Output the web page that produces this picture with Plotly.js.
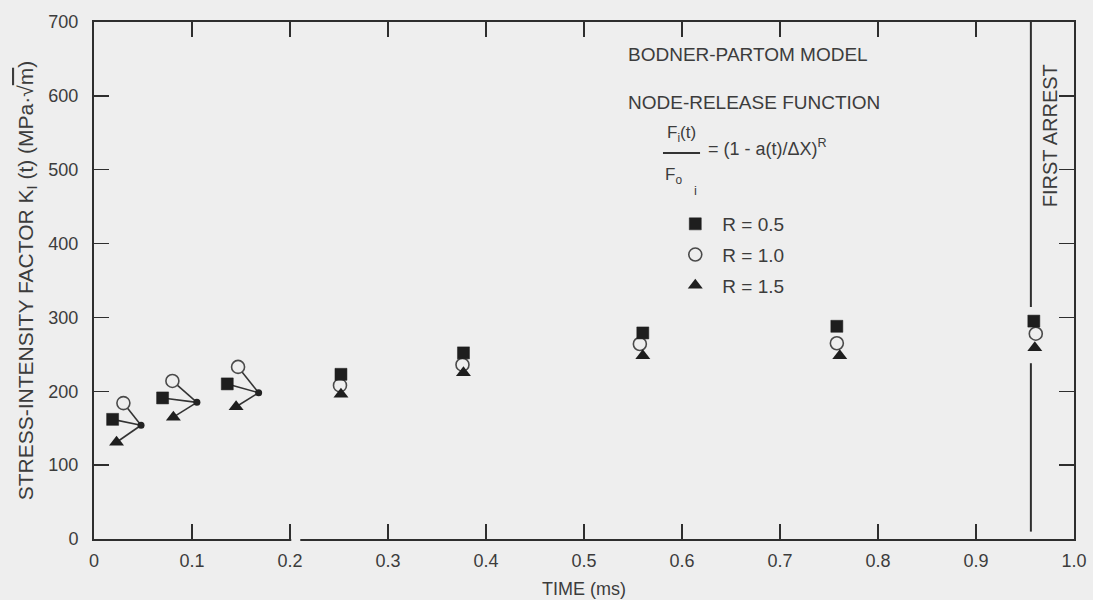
<!DOCTYPE html>
<html>
<head>
<meta charset="utf-8">
<script src="https://cdn.plot.ly/plotly-3.0.1.min.js"></script>
<style>
  html, body { margin: 0; padding: 0; background: #eeeeee; }
  #chart { width: 1093px; height: 600px; }
</style>
</head>
<body>
<div id="chart"></div>
<script>
// Stress-intensity factor K_I(t) vs time for three node-release exponents
const tR05 = [0.019, 0.070, 0.136, 0.252, 0.377, 0.560, 0.758, 0.959];
const kR05 = [162, 191, 210, 223, 252, 279, 288, 295];
const tR10 = [0.030, 0.080, 0.147, 0.251, 0.376, 0.557, 0.758, 0.961];
const kR10 = [184, 214, 233, 208, 236, 264, 265, 278];
const tR15 = [0.023, 0.081, 0.145, 0.252, 0.377, 0.560, 0.761, 0.960];
const kR15 = [131, 165, 179, 196, 225, 248, 248, 259];

// node-release points that fan out to the three R cases (first three steps)
const tNode = [0.048, 0.105, 0.168];
const kNode = [154, 185, 198];

// first-arrest marker line (broken around the last data group)
const tArrest = 0.956;
const kArrestTop = [700, 314];
const kArrestBottom = [238, 10];

const xTicks = [0, 0.1, 0.2, 0.3, 0.4, 0.5, 0.6, 0.7, 0.8, 0.9, 1.0];
const xTickText = ['0', '0.1', '0.2', '0.3', '0.4', '0.5', '0.6', '0.7', '0.8', '0.9', '1.0'];
const yTicks = [0, 100, 200, 300, 400, 500, 600, 700];

const BG = '#eeeeee';
const INK = '#2e2e2e';
const TXT = '#3c3c3c';
const FONT = 'Liberation Sans, Arial, Helvetica, sans-serif';

// fan segments from each node point to its three markers
const fanX = [], fanY = [];
for (let i = 0; i < tNode.length; i++) {
  [[tR05, kR05], [tR10, kR10], [tR15, kR15]].forEach(([tx, ky]) => {
    fanX.push(tNode[i], tx[i], null);
    fanY.push(kNode[i], ky[i], null);
  });
}

const traces = [
  {
    x: fanX, y: fanY, mode: 'lines', showlegend: false, hoverinfo: 'skip',
    line: { color: '#333', width: 1.6 }
  },
  {
    x: [tArrest, tArrest, null, tArrest, tArrest],
    y: [kArrestTop[0], kArrestTop[1], null, kArrestBottom[0], kArrestBottom[1]],
    mode: 'lines', showlegend: false, hoverinfo: 'skip',
    line: { color: INK, width: 2 }
  },
  {
    x: tNode, y: kNode, mode: 'markers', showlegend: false,
    marker: { symbol: 'circle', size: 7, color: '#222' }
  },
  {
    name: 'R = 1.0', x: tR10, y: kR10, mode: 'markers',
    legendrank: 2, legendgroup: 'r10',
    marker: { symbol: 'circle', size: 13, color: BG, line: { color: '#4a4a4a', width: 1.6 } }
  },
  {
    name: 'R = 0.5', x: tR05, y: kR05, mode: 'markers',
    legendrank: 1, legendgroup: 'r05',
    marker: { symbol: 'square', size: 12, color: '#1e1e1e', line: { color: '#1e1e1e', width: 0.5 } }
  },
  {
    name: 'R = 1.5', x: tR15, y: kR15, mode: 'markers',
    legendrank: 3, legendgroup: 'r15',
    marker: { symbol: 'triangle-up', size: 13, color: '#1e1e1e' }
  }
];

const axisCommon = {
  showgrid: false, zeroline: false,
  showline: true, linecolor: INK, linewidth: 2, mirror: 'ticks',
  ticks: 'inside', ticklen: 15, tickwidth: 1.5, tickcolor: INK,
  tickfont: { family: FONT, size: 18, color: TXT }
};

const layout = {
  width: 1093, height: 600,
  margin: { l: 94, r: 19, t: 22, b: 61 },
  paper_bgcolor: BG, plot_bgcolor: BG,
  font: { family: FONT, color: TXT },
  xaxis: Object.assign({}, axisCommon, {
    range: [0, 1.0], tickvals: xTicks, ticktext: xTickText,
    ticklabelstandoff: 4,
    title: { text: 'TIME (ms)', font: { family: FONT, size: 18, color: TXT }, standoff: 13 }
  }),
  yaxis: Object.assign({}, axisCommon, {
    range: [0, 700], tickvals: yTicks,
    ticklabelstandoff: 10,
    title: {
      text: 'STRESS-INTENSITY FACTOR K<sub>I</sub> (t) (MPa·√<span style="text-decoration:overline">m</span>)',
      font: { family: FONT, size: 21, color: TXT }, standoff: 9
    }
  }),
  showlegend: true,
  legend: {
    x: 0.586, y: 0.646, xanchor: 'left', yanchor: 'top',
    bgcolor: 'rgba(0,0,0,0)', borderwidth: 0,
    itemwidth: 44, tracegroupgap: 3,
    font: { family: FONT, size: 19, color: TXT }
  },
  shapes: [
    // break in the time axis just after 0.2
    { type: 'rect', xref: 'x', yref: 'paper', x0: 0.2013, x1: 0.2105, y0: -0.02, y1: 0.02,
      fillcolor: BG, line: { width: 0 }, layer: 'above' },
    // fraction bar of the node-release function
    { type: 'line', xref: 'paper', yref: 'paper', x0: 0.5806, x1: 0.6184, y0: 0.7466, y1: 0.7466,
      line: { color: '#333', width: 2 } }
  ],
  annotations: [
    { text: 'BODNER-PARTOM MODEL', xref: 'paper', yref: 'paper', x: 0.543, y: 0.938,
      xanchor: 'left', yanchor: 'middle', showarrow: false, font: { size: 19, color: TXT } },
    { text: 'NODE-RELEASE FUNCTION', xref: 'paper', yref: 'paper', x: 0.543, y: 0.845,
      xanchor: 'left', yanchor: 'middle', showarrow: false, font: { size: 19, color: TXT } },
    { text: 'F<sub>i</sub>(t)', xref: 'paper', yref: 'paper', x: 0.5995, y: 0.783,
      xanchor: 'center', yanchor: 'middle', showarrow: false, font: { size: 17, color: TXT } },
    { text: 'F<sub>o</sub>', xref: 'paper', yref: 'paper', x: 0.5806, y: 0.703,
      xanchor: 'left', yanchor: 'middle', showarrow: false, font: { size: 17, color: TXT } },
    { text: 'i', xref: 'paper', yref: 'paper', x: 0.6135, y: 0.674,
      xanchor: 'center', yanchor: 'middle', showarrow: false, font: { size: 13, color: TXT } },
    { text: '= (1 - a(t)/ΔX)<sup>R</sup>', xref: 'paper', yref: 'paper', x: 0.6245, y: 0.758,
      xanchor: 'left', yanchor: 'middle', showarrow: false, font: { size: 18, color: TXT } },
    { text: 'FIRST ARREST', xref: 'paper', yref: 'paper', x: 0.9755, y: 0.781,
      xanchor: 'center', yanchor: 'middle', textangle: -90, showarrow: false,
      font: { size: 20, color: TXT } }
  ]
};

Plotly.newPlot('chart', traces, layout, { displayModeBar: false, staticPlot: true });
</script>
</body>
</html>
